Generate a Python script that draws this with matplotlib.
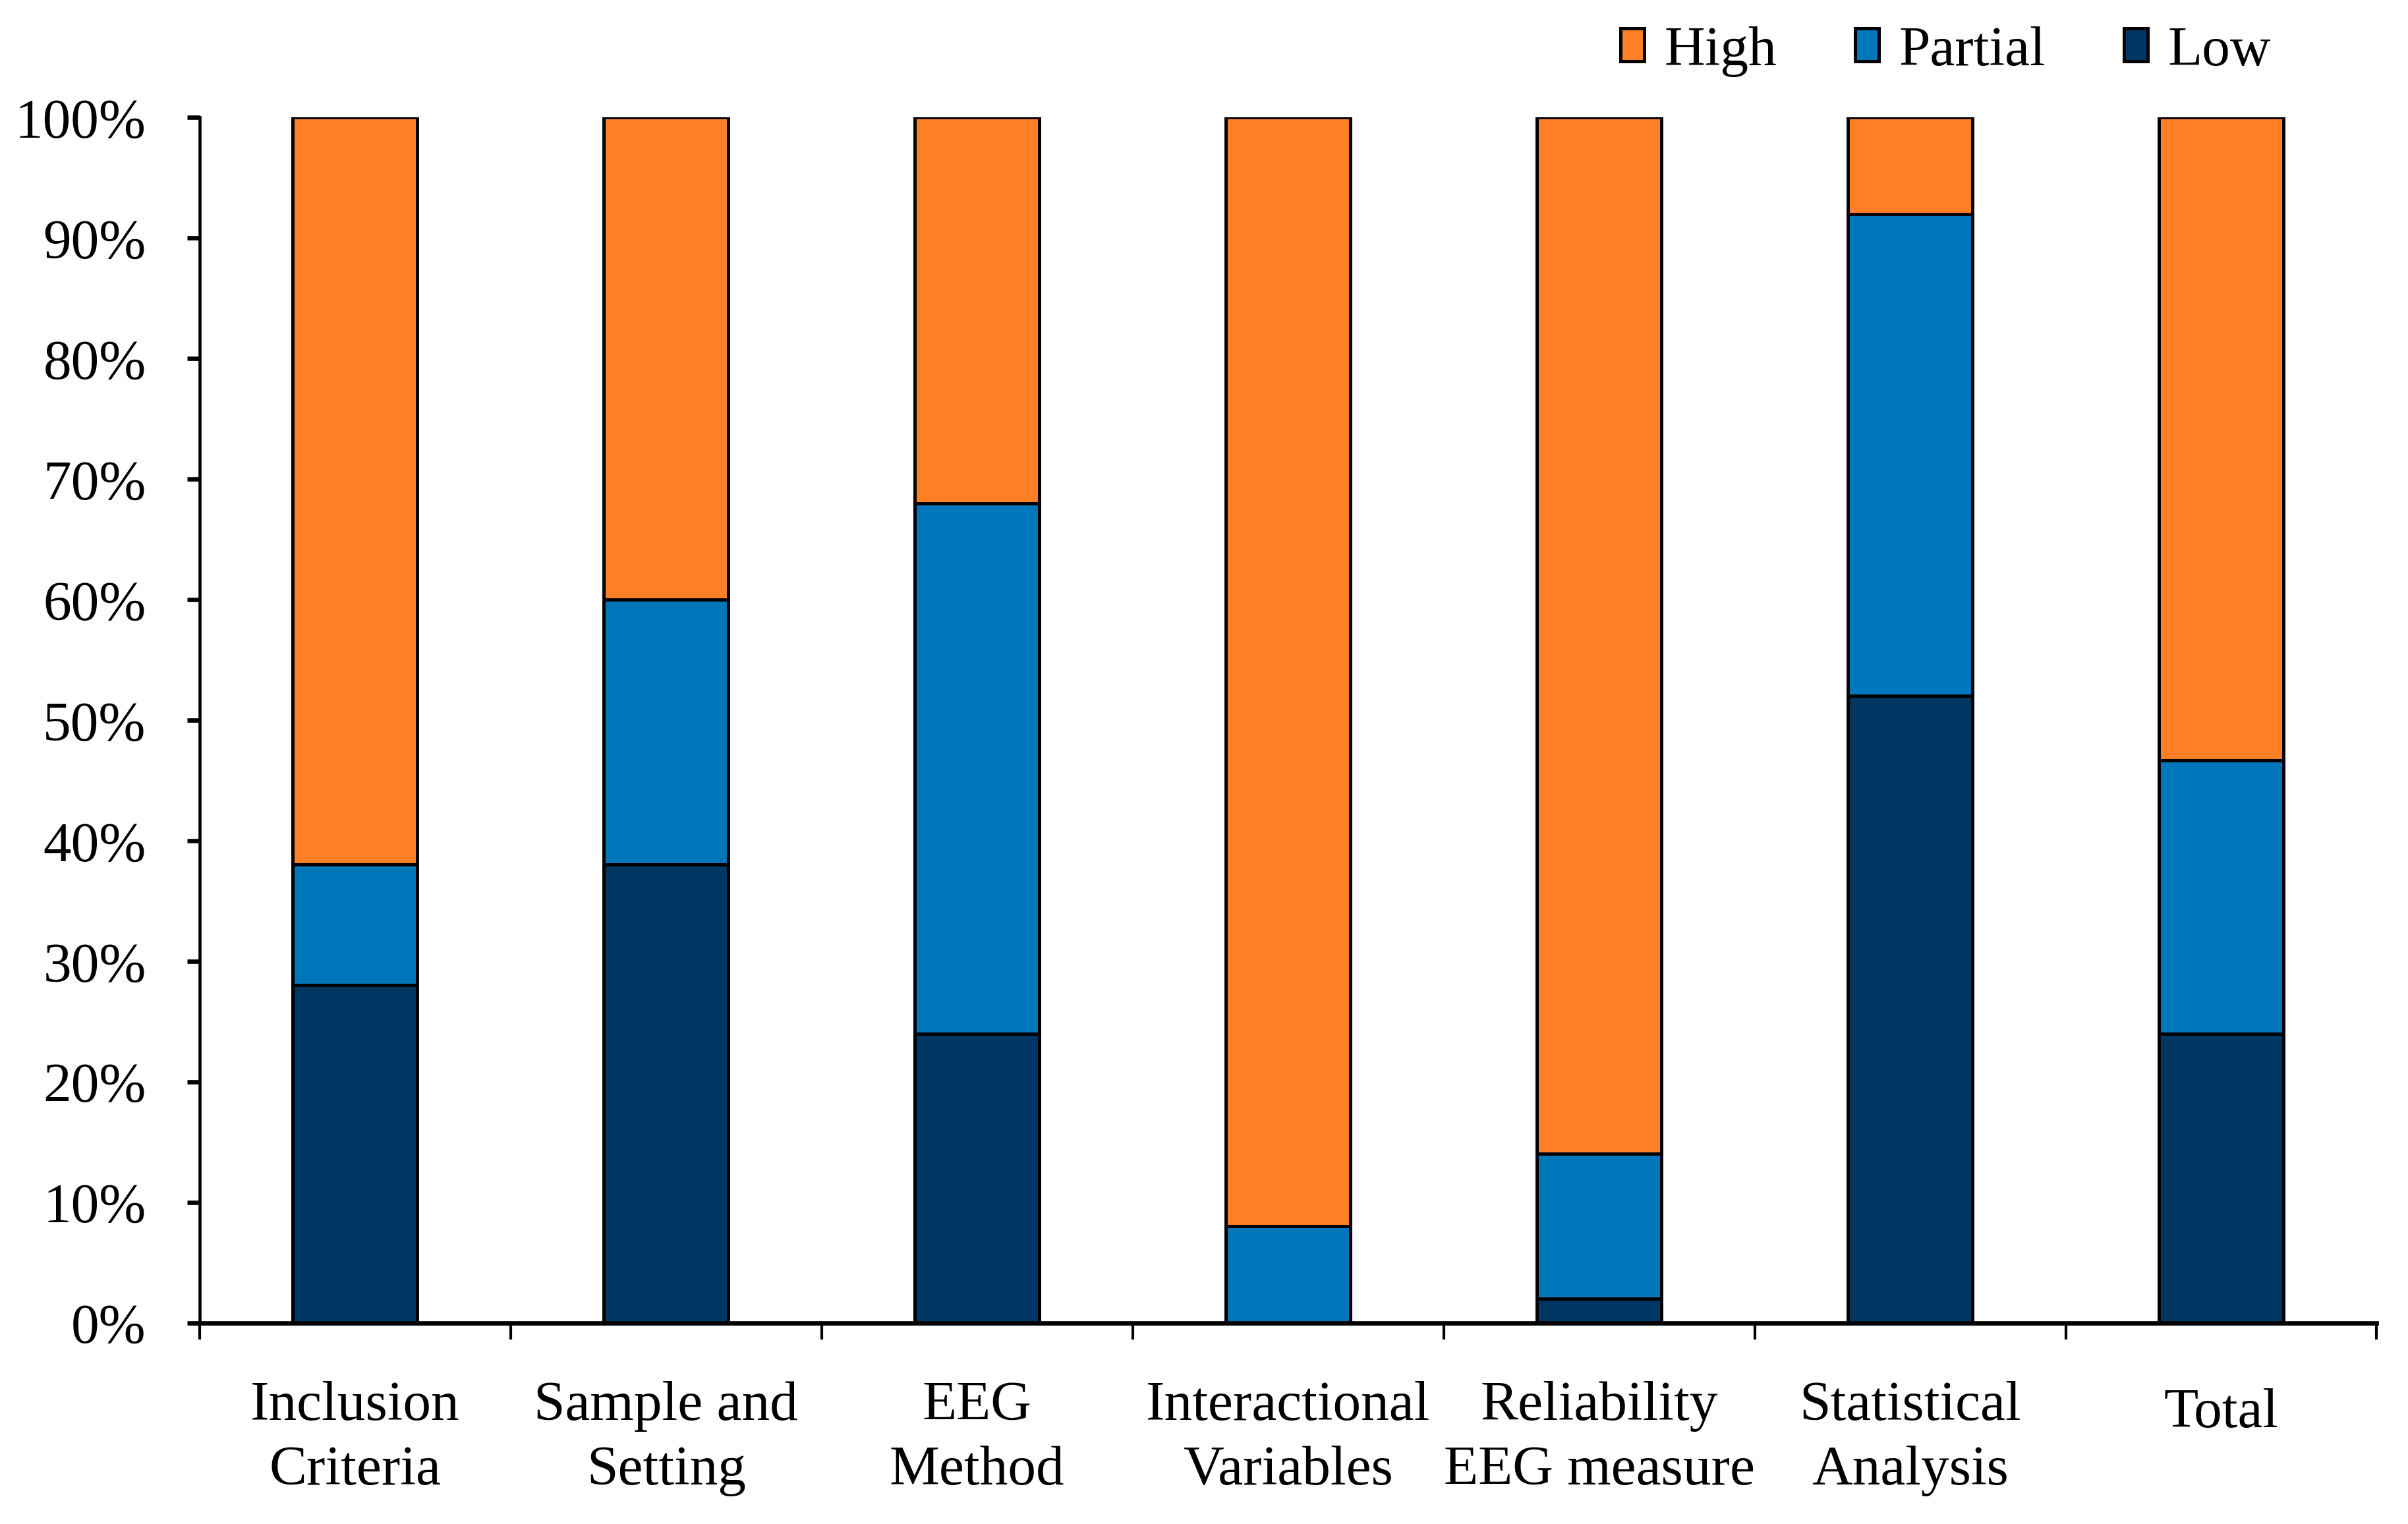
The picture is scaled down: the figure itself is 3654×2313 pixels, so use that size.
import matplotlib
import matplotlib.pyplot as plt
import numpy as np
from matplotlib.ticker import FixedLocator, NullFormatter, PercentFormatter

matplotlib.use("Agg")

categories = [
    "Inclusion\nCriteria",
    "Sample and\nSetting",
    "EEG\nMethod",
    "Interactional\nVariables",
    "Reliability\nEEG measure",
    "Statistical\nAnalysis",
    "Total",
]
low = [28, 38, 24, 0, 2, 52, 24]
partial = [10, 22, 44, 8, 12, 40, 22.67]
high = [100 - l - p for l, p in zip(low, partial)]

series_names = ["High", "Partial", "Low"]
colors = {"High": "#FF7F27", "Partial": "#0077BB", "Low": "#003662"}

plt.rcParams["font.family"] = ["Liberation Serif", "DejaVu Serif"]
plt.rcParams["font.size"] = 20.5

fig = plt.figure(figsize=(12.18, 7.713), dpi=300)
ax = fig.add_axes([0.0829, 0.132, 0.9041, 0.7905])

x = np.arange(len(categories))
w = 0.4
bar_kw = dict(width=w, edgecolor="black", linewidth=1.2, zorder=2)
b_low = ax.bar(x, low, color=colors["Low"], label="Low", **bar_kw)
b_par = ax.bar(x, partial, bottom=low, color=colors["Partial"], label="Partial", **bar_kw)
bottom_high = [l + p for l, p in zip(low, partial)]
b_high = ax.bar(x, high, bottom=bottom_high, color=colors["High"], label="High", **bar_kw)

ax.set_xlim(-0.5, len(categories) - 0.5)
ax.set_ylim(0, 100)
ax.yaxis.set_major_locator(FixedLocator(np.arange(0, 101, 10)))
ax.yaxis.set_major_formatter(PercentFormatter(decimals=0))

# category labels drawn by hand so the one-line "Total" can sit a bit higher
ax.set_xticks(x)
ax.xaxis.set_major_formatter(NullFormatter())
ax.xaxis.set_minor_locator(FixedLocator(np.arange(-0.5, len(categories), 1.0)))
ax.tick_params(axis="x", which="major", length=0)
ax.tick_params(axis="x", which="minor", length=6, width=1.0, direction="out")
ax.tick_params(axis="y", length=4.5, width=1.6, direction="out", pad=15)
for i, cat in enumerate(categories):
    off = 42 if "\n" in cat else 33
    ax.annotate(cat, xy=(i, 0), xycoords=ax.get_xaxis_transform(),
                xytext=(0, -off), textcoords="offset points",
                ha="center", va="center", linespacing=1.35)

for side in ("top", "right"):
    ax.spines[side].set_visible(False)
ax.spines["left"].set_linewidth(1.1)
ax.spines["bottom"].set_linewidth(1.6)

handles = [b_high, b_par, b_low]
fig.legend(
    handles,
    series_names,
    loc="center right",
    bbox_to_anchor=(0.943, 0.966),
    ncol=3,
    frameon=False,
    borderpad=0,
    borderaxespad=0,
    handlelength=0.42,
    handleheight=0.52,
    handletextpad=0.35,
    columnspacing=1.4,
)

fig.savefig("out.png", dpi=300)
